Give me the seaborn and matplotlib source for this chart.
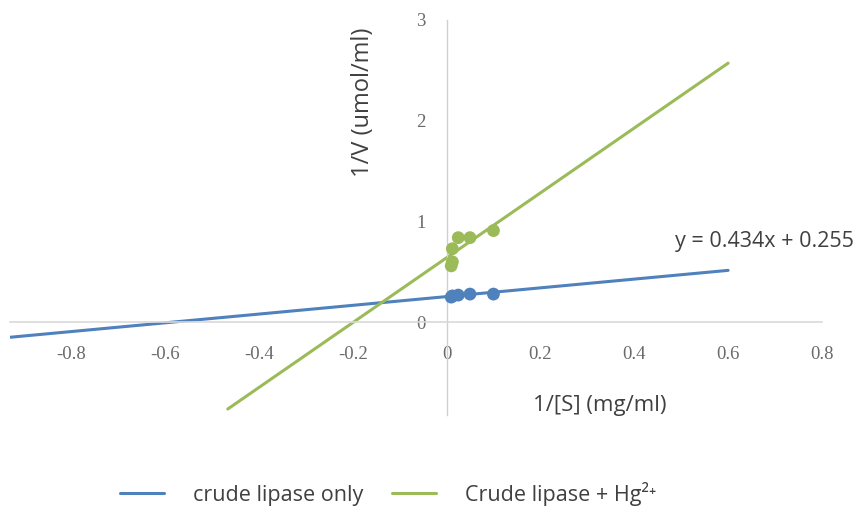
import numpy as np
import pandas as pd
import matplotlib
matplotlib.use("Agg")
import matplotlib.pyplot as plt
import seaborn as sns

# data
s_inv = [0.01, 0.0125, 0.0125, 0.025, 0.05, 0.1]
v_inv_crude = [0.25, 0.26, 0.26, 0.27, 0.28, 0.28]
v_inv_hg = [0.56, 0.60, 0.73, 0.84, 0.84, 0.91]

# trendlines (slope, intercept) and their x extent
crude_fit = (0.434, 0.255)
hg_fit = (3.22, 0.64)
crude_span = [-0.93, 0.6]
hg_span = [-0.466, 0.6]

series_names = ["crude lipase only", "Crude lipase + Hg²⁺"]
blue = "#4F81BD"
green = "#9BBB59"

xticks = [-0.8, -0.6, -0.4, -0.2, 0, 0.2, 0.4, 0.6, 0.8]
xtick_labels = ["-0.8", "-0.6", "-0.4", "-0.2", "0", "0.2", "0.4", "0.6", "0.8"]
yticks = [0, 1, 2, 3]

pts = pd.DataFrame({
    "x": s_inv * 2,
    "y": v_inv_crude + v_inv_hg,
    "series": [series_names[0]] * len(s_inv) + [series_names[1]] * len(s_inv),
})

lines = pd.DataFrame({
    "x": crude_span + hg_span,
    "y": [crude_fit[0] * x + crude_fit[1] for x in crude_span]
         + [hg_fit[0] * x + hg_fit[1] for x in hg_span],
    "series": [series_names[0]] * 2 + [series_names[1]] * 2,
})

sns.set_style("white")
fig = plt.figure(figsize=(8.61, 5.08), dpi=100)
ax = fig.add_axes([10 / 861, 1 - 415 / 508, 812 / 861, 395 / 508])

pal = {series_names[0]: blue, series_names[1]: green}
sns.lineplot(data=lines, x="x", y="y", hue="series", palette=pal, lw=2.2, ax=ax)
sns.scatterplot(data=pts, x="x", y="y", hue="series", palette=pal, s=85,
                edgecolor="none", legend=False, ax=ax, zorder=3)

ax.set_xlim(-0.93, 0.8)
ax.set_ylim(-0.92, 3)

for side in ["top", "right"]:
    ax.spines[side].set_visible(False)
ax.spines["bottom"].set_position(("data", 0))
ax.spines["left"].set_position(("data", 0))
ax.spines["bottom"].set_color("#D9D9D9")
ax.spines["left"].set_color("#D0D0D0")
ax.spines["bottom"].set_linewidth(1.2)
ax.spines["left"].set_linewidth(1.0)

ax.set_xticks(xticks)
ax.set_xticklabels(xtick_labels)
ax.set_yticks(yticks)
ax.tick_params(axis="x", length=0, pad=17, labelsize=13.5, labelcolor="#6A6A6A")
ax.tick_params(axis="y", length=0, pad=15, labelsize=13.5, labelcolor="#6A6A6A")
for lab in ax.get_xticklabels() + ax.get_yticklabels():
    lab.set_family("Liberation Serif")

ax.set_xlabel("")
ax.set_ylabel("")
fig.text(600 / 861, 1 - 405 / 508, "1/[S] (mg/ml)", ha="center", va="center",
         fontsize=16, color="#404040", family="Open Sans")
fig.text(363 / 861, 1 - 102 / 508, "1/V (umol/ml)", ha="center", va="center",
         rotation=90, fontsize=17, color="#404040", family="Open Sans")

fig.text(675 / 861, 1 - 242 / 508, "y = 0.434x + 0.255", ha="left", va="center",
         fontsize=15.5, color="#404040", family="Open Sans")

handles, labels = ax.get_legend_handles_labels()
leg = fig.legend(handles, labels, loc="center", bbox_to_anchor=(388 / 861, 1 - 494 / 508),
                 ncol=2, frameon=False, fontsize=15.5, handlelength=2.05,
                 columnspacing=1.35, handletextpad=1.35)
for t in leg.get_texts():
    t.set_color("#404040")
    t.set_family(["Open Sans", "DejaVu Sans"])
ax.get_legend().remove()

fig.savefig("out.png", dpi=100)
